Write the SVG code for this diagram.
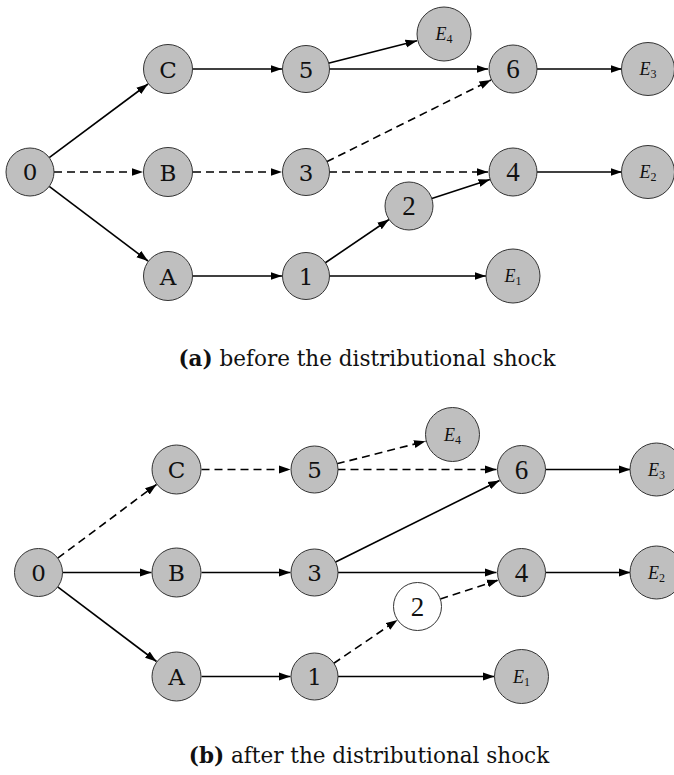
<svg xmlns="http://www.w3.org/2000/svg" width="674" height="775" viewBox="0 0 674 775">
<style>
.n{fill:#bfbfbf;stroke:#333;stroke-width:1}
.w{fill:#fff;stroke:#333;stroke-width:1}
.t{font-family:"DejaVu Serif",serif;font-size:23px;fill:#111;text-anchor:middle}
.m{font-family:"Liberation Serif",serif;font-size:27px;fill:#111;text-anchor:middle}
.e{font-family:"Liberation Serif",serif;font-size:18px;font-style:italic;fill:#111;text-anchor:middle}
.s{font-size:12px;font-style:normal}
.l{stroke:#000;stroke-width:1.6;fill:none;marker-end:url(#ah)}
.d{stroke-dasharray:8 5}
.cap{font-family:"DejaVu Serif",serif;font-size:21.5px;fill:#111;text-anchor:middle}
</style>
<defs>
<marker id="ah" markerUnits="userSpaceOnUse" markerWidth="12" markerHeight="9" refX="11.5" refY="4.5" orient="auto">
<path d="M0,0.5 L11.5,4.5 L0,8.5 z" fill="#000"/>
</marker>
</defs>

<g id="diagram-a">
<g id="edges-a">
<line class="l" x1="49.2" y1="157.6" x2="148" y2="84"/>
<line class="l d" x1="54" y1="172" x2="143" y2="172"/>
<line class="l" x1="49.2" y1="186.4" x2="148" y2="261"/>
<line class="l" x1="193" y1="69" x2="282" y2="69"/>
<line class="l d" x1="193" y1="172" x2="282" y2="172"/>
<line class="l" x1="193" y1="276" x2="282" y2="276"/>
<line class="l" x1="328.3" y1="63.3" x2="417" y2="40.8"/>
<line class="l" x1="329" y1="69" x2="488" y2="69"/>
<line class="l d" x1="326.6" y1="161.8" x2="491" y2="80"/>
<line class="l d" x1="329" y1="172" x2="488" y2="172"/>
<line class="l" x1="325" y1="263" x2="389" y2="219.5"/>
<line class="l" x1="431.8" y1="198.5" x2="490" y2="179.5"/>
<line class="l" x1="329" y1="276" x2="486" y2="276"/>
<line class="l" x1="537" y1="69" x2="622" y2="69"/>
<line class="l" x1="537" y1="172" x2="622" y2="172"/>
</g>
<g id="a-n0"><circle class="n" cx="30" cy="172" r="24"/><text class="t" x="30" y="180">0</text></g>
<g id="a-nC"><circle class="n" cx="168" cy="69" r="24.5"/><text class="t" x="168" y="77.5">C</text></g>
<g id="a-nB"><circle class="n" cx="168" cy="172" r="24.5"/><text class="t" x="168" y="180.5">B</text></g>
<g id="a-nA"><circle class="n" cx="168" cy="276" r="24.5"/><text class="t" x="168" y="284.5">A</text></g>
<g id="a-n5"><circle class="n" cx="306" cy="69" r="23.5"/><text class="t" x="306" y="77.5">5</text></g>
<g id="a-n3"><circle class="n" cx="306" cy="172" r="23.5"/><text class="t" x="306" y="180.5">3</text></g>
<g id="a-n1"><circle class="n" cx="306" cy="276" r="23.5"/><text class="t" x="306" y="284.5">1</text></g>
<g id="a-n2"><circle class="n" cx="409" cy="206" r="24"/><text class="m" x="409" y="215">2</text></g>
<g id="a-n6"><circle class="n" cx="513" cy="69" r="24"/><text class="m" x="513" y="78">6</text></g>
<g id="a-n4"><circle class="n" cx="513" cy="172" r="24"/><text class="m" x="513" y="181">4</text></g>
<g id="a-nE4"><circle class="n" cx="444" cy="34" r="27"/><text class="e" x="444" y="40">E<tspan class="s" dy="3">4</tspan></text></g>
<g id="a-nE3"><circle class="n" cx="648" cy="69" r="26.5"/><text class="e" x="648" y="75">E<tspan class="s" dy="3">3</tspan></text></g>
<g id="a-nE2"><circle class="n" cx="648" cy="172" r="26.5"/><text class="e" x="648" y="178">E<tspan class="s" dy="3">2</tspan></text></g>
<g id="a-nE1"><circle class="n" cx="513" cy="276" r="27"/><text class="e" x="513" y="282">E<tspan class="s" dy="3">1</tspan></text></g>
</g>
<text class="cap" x="367" y="366"><tspan font-weight="bold">(a)</tspan> before the distributional shock</text>

<g id="diagram-b" transform="translate(8.5,400.5)">
<g id="edges-b">
<line class="l d" x1="49.2" y1="157.6" x2="148" y2="84"/>
<line class="l" x1="54" y1="172" x2="143" y2="172"/>
<line class="l" x1="49.2" y1="186.4" x2="148" y2="261"/>
<line class="l d" x1="193" y1="69" x2="282" y2="69"/>
<line class="l" x1="193" y1="172" x2="282" y2="172"/>
<line class="l" x1="193" y1="276" x2="282" y2="276"/>
<line class="l d" x1="328.3" y1="63.3" x2="417" y2="40.8"/>
<line class="l d" x1="329" y1="69" x2="488" y2="69"/>
<line class="l" x1="326.6" y1="161.8" x2="491" y2="80"/>
<line class="l" x1="329" y1="172" x2="488" y2="172"/>
<line class="l d" x1="325" y1="263" x2="389" y2="219.5"/>
<line class="l d" x1="431.8" y1="198.5" x2="490" y2="179.5"/>
<line class="l" x1="329" y1="276" x2="486" y2="276"/>
<line class="l" x1="537" y1="69" x2="622" y2="69"/>
<line class="l" x1="537" y1="172" x2="622" y2="172"/>
</g>
<g id="b-n0"><circle class="n" cx="30" cy="172" r="24"/><text class="t" x="30" y="180">0</text></g>
<g id="b-nC"><circle class="n" cx="168" cy="69" r="24.5"/><text class="t" x="168" y="77.5">C</text></g>
<g id="b-nB"><circle class="n" cx="168" cy="172" r="24.5"/><text class="t" x="168" y="180.5">B</text></g>
<g id="b-nA"><circle class="n" cx="168" cy="276" r="24.5"/><text class="t" x="168" y="284.5">A</text></g>
<g id="b-n5"><circle class="n" cx="306" cy="69" r="23.5"/><text class="t" x="306" y="77.5">5</text></g>
<g id="b-n3"><circle class="n" cx="306" cy="172" r="23.5"/><text class="t" x="306" y="180.5">3</text></g>
<g id="b-n1"><circle class="n" cx="306" cy="276" r="23.5"/><text class="t" x="306" y="284.5">1</text></g>
<g id="b-n2"><circle class="w" cx="409" cy="206" r="24"/><text class="m" x="409" y="215">2</text></g>
<g id="b-n6"><circle class="n" cx="513" cy="69" r="24"/><text class="m" x="513" y="78">6</text></g>
<g id="b-n4"><circle class="n" cx="513" cy="172" r="24"/><text class="m" x="513" y="181">4</text></g>
<g id="b-nE4"><circle class="n" cx="444" cy="34" r="27"/><text class="e" x="444" y="40">E<tspan class="s" dy="3">4</tspan></text></g>
<g id="b-nE3"><circle class="n" cx="648" cy="69" r="26.5"/><text class="e" x="648" y="75">E<tspan class="s" dy="3">3</tspan></text></g>
<g id="b-nE2"><circle class="n" cx="648" cy="172" r="26.5"/><text class="e" x="648" y="178">E<tspan class="s" dy="3">2</tspan></text></g>
<g id="b-nE1"><circle class="n" cx="513" cy="276" r="27"/><text class="e" x="513" y="282">E<tspan class="s" dy="3">1</tspan></text></g>
</g>
<text class="cap" x="369" y="763"><tspan font-weight="bold">(b)</tspan> after the distributional shock</text>
</svg>
